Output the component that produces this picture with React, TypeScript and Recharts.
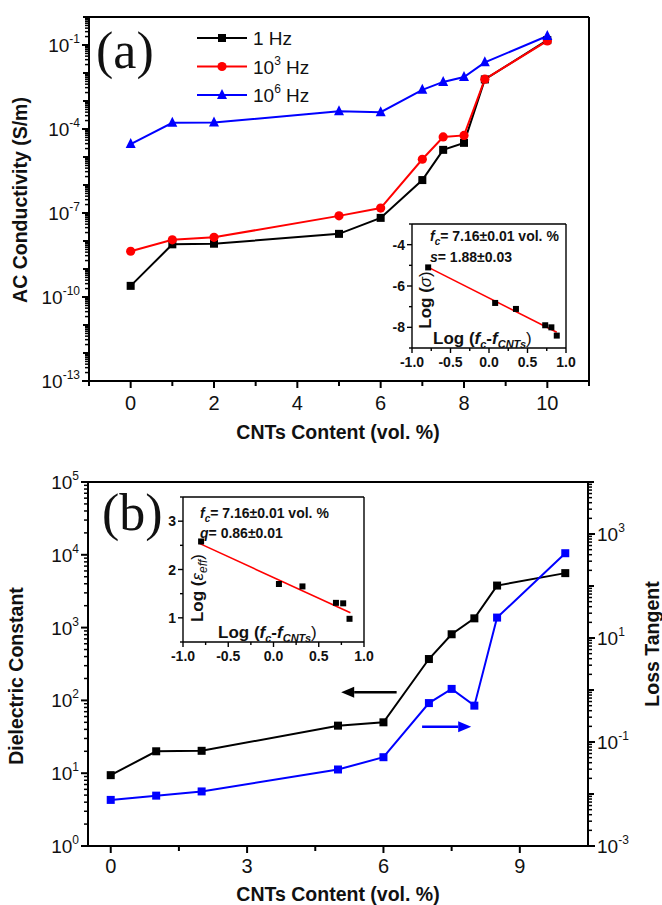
import React from "react";
import {
  ComposedChart,
  Label,
  Legend,
  Line,
  LineChart,
  ReferenceLine,
  Scatter,
  XAxis,
  YAxis,
} from "recharts";

// teneur en CNTs (vol. %)
const teneurs = [0, 1, 2, 5, 6, 7, 7.5, 8, 8.5, 10];

// (a) conductivité AC (S/m)
const sigma1Hz = [2.5e-10, 7.6e-9, 8e-9, 1.8e-8, 6.7e-8, 1.5e-6, 1.8e-5, 3.2e-5, 5.9e-3, 0.15];
const sigma1kHz = [4.3e-9, 1.1e-8, 1.35e-8, 7.9e-8, 1.5e-7, 8.3e-6, 5.2e-5, 5.9e-5, 6e-3, 0.14];
const sigma1MHz = [2.9e-5, 1.66e-4, 1.7e-4, 4.3e-4, 4.0e-4, 2.5e-3, 4.8e-3, 7.2e-3, 0.024, 0.21];

// (a) encart : log(fc - f) vs log(sigma)
const encartALogF = [-0.79, 0.08, 0.35, 0.73, 0.81, 0.88];
const encartALogSigma = [-5.1, -6.82, -7.11, -7.9, -8.0, -8.4];
const ajustAPente = -1.88;
const ajustAOrigine = -6.58;
const ajustABornes = [-0.8, 0.88];

// (b) constante diélectrique et tangente de pertes
const constanteDiel = [9.4, 20, 20.3, 45, 50, 370, 810, 1340, 3780, 5600];
const tangentePertes = [7.7e-3, 9.3e-3, 0.0112, 0.0296, 0.051, 0.56, 1.05, 0.5, 24.7, 427];

// (b) encart : log(fc - f) vs log(eps_eff)
const encartBLogF = [-0.8, 0.06, 0.32, 0.69, 0.77, 0.84];
const encartBLogEps = [2.58, 1.7, 1.65, 1.31, 1.3, 0.98];
const ajustBPente = -0.86;
const ajustBOrigine = 1.835;
const ajustBBornes = [-0.82, 0.85];

// flèches (b), en coordonnées de données (axe de gauche)
const flecheNoireX = [6.29, 5.07];
const flecheNoireY = 129;
const flecheBleueX = [6.85, 7.93];
const flecheBleueY = 43.4;

// graduations
const ticksXA = [-1, 0, 1, 2, 3, 4, 5, 6, 7, 8, 9, 10, 11];
const etiquettesXA = [0, 2, 4, 6, 8, 10];
const ticksXB = [0, 1.5, 3, 4.5, 6, 7.5, 9];
const etiquettesXB = [0, 3, 6, 9];
const expEtiquettesA = [-13, -10, -7, -4, -1];
const expEtiquettesBGauche = [0, 1, 2, 3, 4, 5];
const expEtiquettesBDroite = [-3, -1, 1, 3];
const ticksEncartX = [-1, -0.75, -0.5, -0.25, 0, 0.25, 0.5, 0.75, 1];
const etiquettesEncartX = [-1, -0.5, 0, 0.5, 1];
const ticksEncartAY = [-9, -8, -7, -6, -5, -4, -3];
const etiquettesEncartAY = [-8, -6, -4];
const ticksEncartBY = [0.5, 1, 1.5, 2, 2.5, 3, 3.5];
const etiquettesEncartBY = [1, 2, 3];

const POLICE = "Arial, 'Liberation Sans', Helvetica, sans-serif";
const SERIF = "'Times New Roman', 'Liberation Serif', serif";
const NOIR = "#000000";
const ROUGE = "#ff0000";
const BLEU = "#0000ff";

const donneesA = teneurs.map((x, i) => ({
  x,
  s1: sigma1Hz[i],
  s2: sigma1kHz[i],
  s3: sigma1MHz[i],
}));
const donneesB = teneurs.map((x, i) => ({
  x,
  eps: constanteDiel[i],
  tan: tangentePertes[i],
}));
const pointsA = encartALogF.map((x, i) => ({ x, y: encartALogSigma[i] }));
const ajustA = ajustABornes.map((x) => ({ x, y: ajustAOrigine + ajustAPente * x }));
const pointsB = encartBLogF.map((x, i) => ({ x, y: encartBLogEps[i] }));
const ajustB = ajustBBornes.map((x) => ({ x, y: ajustBOrigine + ajustBPente * x }));

function ticksLog(expMin: number, expMax: number) {
  const t: number[] = [];
  for (let e = expMin; e <= expMax; e++) {
    t.push(Math.pow(10, e));
    if (e < expMax) for (let k = 2; k <= 9; k++) t.push(k * Math.pow(10, e));
  }
  return t;
}

function tickLogY(axeX: number, sens: number, etiquetees: number[]) {
  return (props: any) => {
    const { y, payload } = props;
    const v = payload.value as number;
    const e = Math.round(Math.log10(v));
    const decade = Math.abs(v / Math.pow(10, e) - 1) < 1e-6;
    const lbl = decade && etiquetees.includes(e);
    const long = decade ? (lbl ? 7 : 6) : 4;
    return (
      <g>
        <line x1={axeX} x2={axeX + sens * long} y1={y} y2={y} stroke={NOIR} strokeWidth={decade ? 2 : 1.5} />
        {lbl && (
          <text
            x={axeX + sens * 9}
            y={y + 7}
            textAnchor={sens < 0 ? "end" : "start"}
            fontFamily={POLICE}
            fontSize={19}
            fill="#111"
          >
            <tspan>10</tspan>
            <tspan fontSize={12} dy={-9}>
              {e}
            </tspan>
          </text>
        )}
      </g>
    );
  };
}

function tickX(axeY: number, etiquetees: number[], decalage: number) {
  return (props: any) => {
    const { x, payload } = props;
    const v = payload.value as number;
    const lbl = etiquetees.includes(v);
    return (
      <g>
        <line x1={x} x2={x} y1={axeY} y2={axeY + (lbl ? 7 : 5)} stroke={NOIR} strokeWidth={2} />
        {lbl && (
          <text x={x} y={axeY + decalage} textAnchor="middle" fontFamily={POLICE} fontSize={20} fill="#111">
            {v}
          </text>
        )}
      </g>
    );
  };
}

function tickEncartX(axeY: number) {
  return (props: any) => {
    const { x, payload } = props;
    const v = payload.value as number;
    const lbl = etiquettesEncartX.includes(v);
    return (
      <g>
        <line x1={x} x2={x} y1={axeY} y2={axeY + (lbl ? 5 : 3)} stroke={NOIR} strokeWidth={1.4} />
        {lbl && (
          <text x={x} y={axeY + 19} textAnchor="middle" fontFamily={POLICE} fontWeight="bold" fontSize={14} fill="#111">
            {v.toFixed(1)}
          </text>
        )}
      </g>
    );
  };
}

function tickEncartY(axeX: number, etiquetees: number[]) {
  return (props: any) => {
    const { y, payload } = props;
    const v = payload.value as number;
    const lbl = etiquetees.includes(v);
    return (
      <g>
        <line x1={axeX} x2={axeX - (lbl ? 5 : 3)} y1={y} y2={y} stroke={NOIR} strokeWidth={1.4} />
        {lbl && (
          <text x={axeX - 7} y={y + 5} textAnchor="end" fontFamily={POLICE} fontWeight="bold" fontSize={14} fill="#111">
            {v}
          </text>
        )}
      </g>
    );
  };
}

function carre(taille: number, couleur: string) {
  return (props: any) => {
    const { cx, cy, index } = props;
    if (cx == null || cy == null) return <g key={index} />;
    return <rect key={index} x={cx - taille / 2} y={cy - taille / 2} width={taille} height={taille} fill={couleur} />;
  };
}

function rond(r: number, couleur: string) {
  return (props: any) => {
    const { cx, cy, index } = props;
    if (cx == null || cy == null) return <g key={index} />;
    return <circle key={index} cx={cx} cy={cy} r={r} fill={couleur} />;
  };
}

function triangle(t: number, couleur: string) {
  return (props: any) => {
    const { cx, cy, index } = props;
    if (cx == null || cy == null) return <g key={index} />;
    const pts = `${cx},${cy - t * 0.6} ${cx - t / 2},${cy + t * 0.4} ${cx + t / 2},${cy + t * 0.4}`;
    return <polygon key={index} points={pts} fill={couleur} />;
  };
}

function fleche(couleur: string) {
  return (props: any) => {
    const { x1, y1, x2, y2 } = props;
    const ang = Math.atan2(y2 - y1, x2 - x1);
    const L = 13;
    const W = 5.5;
    const bx = x2 - L * Math.cos(ang);
    const by = y2 - L * Math.sin(ang);
    const pts = `${x2},${y2} ${bx - W * Math.sin(ang)},${by + W * Math.cos(ang)} ${bx + W * Math.sin(ang)},${by - W * Math.cos(ang)}`;
    return (
      <g>
        <line x1={x1} y1={y1} x2={bx} y2={by} stroke={couleur} strokeWidth={2.5} />
        <polygon points={pts} fill={couleur} />
      </g>
    );
  };
}

const seriesA = [
  { cle: "s1", couleur: NOIR, marque: carre(8, NOIR), exp: "" },
  { cle: "s2", couleur: ROUGE, marque: rond(4.6, ROUGE), exp: "3" },
  { cle: "s3", couleur: BLEU, marque: triangle(10, BLEU), exp: "6" },
];

function LegendeA() {
  return (
    <svg width={140} height={92}>
      {seriesA.map((s, i) => {
        const y = 16 + i * 28.5;
        return (
          <g key={s.cle}>
            <line x1={7} x2={57} y1={y} y2={y} stroke={s.couleur} strokeWidth={2} />
            {s.marque({ cx: 32, cy: y, index: i })}
            <text x={63} y={y + 7} fontFamily={POLICE} fontSize={19} fill="#111">
              {s.exp === "" ? (
                "1 Hz"
              ) : (
                <>
                  <tspan>10</tspan>
                  <tspan fontSize={12} dy={-9}>
                    {s.exp}
                  </tspan>
                  <tspan dy={9}> Hz</tspan>
                </>
              )}
            </text>
          </g>
        );
      })}
    </svg>
  );
}

const cadre = { stroke: NOIR, strokeWidth: 2 };
const cadreEncart = { stroke: NOIR, strokeWidth: 1.4 };

function TitreX({ y }: { y: number }) {
  return (
    <text x={338} y={y} textAnchor="middle" fontFamily={POLICE} fontWeight="bold" fontSize={19.5} fill="#111">
      CNTs Content (vol. %)
    </text>
  );
}

function TitreY({ x, y, texte }: { x: number; y: number; texte: string }) {
  return (
    <text
      x={x}
      y={y}
      transform={`rotate(-90, ${x}, ${y})`}
      textAnchor="middle"
      fontFamily={POLICE}
      fontWeight="bold"
      fontSize={19.5}
      fill="#111"
    >
      {texte}
    </text>
  );
}

function LogFc({ x, y }: { x: number; y: number }) {
  return (
    <text x={x} y={y} fontFamily={POLICE} fontSize={17} fill="#111">
      <tspan fontWeight="bold">Log (</tspan>
      <tspan fontWeight="bold" fontStyle="italic">f</tspan>
      <tspan fontWeight="bold" fontStyle="italic" fontSize={11} dy={4}>c</tspan>
      <tspan fontWeight="bold" dy={-4}>-</tspan>
      <tspan fontWeight="bold" fontStyle="italic">f</tspan>
      <tspan fontWeight="bold" fontStyle="italic" fontSize={11} dy={4}>CNTs</tspan>
      <tspan dy={-4}>)</tspan>
    </text>
  );
}

function Fc({ x, y }: { x: number; y: number }) {
  return (
    <text x={x} y={y} fontFamily={POLICE} fontWeight="bold" fontSize={14} fill="#111">
      <tspan fontStyle="italic">f</tspan>
      <tspan fontStyle="italic" fontSize={10} dy={4}>c</tspan>
      <tspan dy={-4}>= 7.16±0.01 vol. %</tspan>
    </text>
  );
}

export default function App() {
  return (
    <div style={{ position: "absolute", left: 0, top: 0, width: 662, height: 905, background: "#fff" }}>
      {/* (a) */}
      <div style={{ position: "absolute", left: 0, top: 0 }}>
        <LineChart width={662} height={455} data={donneesA} margin={{ top: 17, right: 73, bottom: 14, left: 0 }}>
          <XAxis
            type="number"
            dataKey="x"
            domain={[-1, 11]}
            ticks={ticksXA}
            interval={0}
            height={60}
            allowDataOverflow
            axisLine={cadre}
            tickLine={false}
            tick={tickX(381, etiquettesXA, 29)}
          >
            <Label content={() => <TitreX y={439} />} />
          </XAxis>
          <XAxis xAxisId="haut" orientation="top" type="number" domain={[-1, 11]} mirror tick={false} tickLine={false} axisLine={cadre} />
          <YAxis
            scale="log"
            type="number"
            domain={[1e-13, 1]}
            ticks={ticksLog(-13, 0)}
            interval={0}
            width={89}
            allowDataOverflow
            axisLine={cadre}
            tickLine={false}
            tick={tickLogY(89, -1, expEtiquettesA)}
          >
            <Label
              content={() => (
                <g>
                  <TitreY x={27} y={200} texte="AC Conductivity (S/m)" />
                  <text x={96} y={68} fontFamily={SERIF} fontSize={52} fill="#111">
                    (a)
                  </text>
                </g>
              )}
            />
          </YAxis>
          <YAxis yAxisId="cadre" orientation="right" mirror tick={false} tickLine={false} axisLine={cadre} />
          <Legend
            layout="vertical"
            align="center"
            verticalAlign="middle"
            wrapperStyle={{ left: 190, top: 22, width: 140 }}
            content={() => <LegendeA />}
          />
          {seriesA.map((s) => (
            <Line
              key={s.cle}
              type="linear"
              dataKey={s.cle}
              stroke={s.couleur}
              strokeWidth={2}
              dot={s.marque}
              activeDot={false}
              isAnimationActive={false}
            />
          ))}
        </LineChart>
      </div>

      {/* (a) encart */}
      <div style={{ position: "absolute", left: 360, top: 214 }}>
        <ComposedChart width={220} height={160} margin={{ top: 10, right: 14, bottom: 4, left: 0 }}>
          <XAxis
            type="number"
            dataKey="x"
            domain={[-1, 1]}
            ticks={ticksEncartX}
            interval={0}
            height={22}
            allowDataOverflow
            axisLine={cadreEncart}
            tickLine={false}
            tick={tickEncartX(134)}
          >
            <Label
              content={() => (
                <g>
                  <Fc x={70} y={27} />
                  <text x={70} y={48} fontFamily={POLICE} fontWeight="bold" fontSize={14} fill="#111">
                    <tspan fontStyle="italic">s</tspan>
                    <tspan>= 1.88±0.03</tspan>
                  </text>
                  <LogFc x={73} y={130} />
                </g>
              )}
            />
          </XAxis>
          <XAxis xAxisId="haut" orientation="top" type="number" domain={[-1, 1]} mirror tick={false} tickLine={false} axisLine={cadreEncart} />
          <YAxis
            type="number"
            dataKey="y"
            domain={[-9, -3]}
            ticks={ticksEncartAY}
            interval={0}
            width={52}
            allowDataOverflow
            axisLine={cadreEncart}
            tickLine={false}
            tick={tickEncartY(52, etiquettesEncartAY)}
          >
            <Label
              content={() => (
                <text
                  x={71}
                  y={86}
                  transform="rotate(-90, 71, 86)"
                  textAnchor="middle"
                  fontFamily={POLICE}
                  fontWeight="bold"
                  fontSize={17}
                  fill="#111"
                >
                  <tspan>Log (</tspan>
                  <tspan fontStyle="italic" fontWeight="normal">σ</tspan>
                  <tspan fontWeight="normal">)</tspan>
                </text>
              )}
            />
          </YAxis>
          <YAxis yAxisId="droite" orientation="right" mirror tick={false} tickLine={false} axisLine={cadreEncart} />
          <Scatter data={ajustA} line={{ stroke: ROUGE, strokeWidth: 1.6 }} shape={() => <g />} isAnimationActive={false} />
          <Scatter data={pointsA} fill={NOIR} shape={carre(6, NOIR)} isAnimationActive={false} />
        </ComposedChart>
      </div>

      {/* (b) */}
      <div style={{ position: "absolute", left: 0, top: 455 }}>
        <LineChart width={662} height={450} data={donneesB} margin={{ top: 27, right: 0, bottom: 4, left: 0 }}>
          <XAxis
            type="number"
            dataKey="x"
            domain={[-0.5, 10.5]}
            ticks={ticksXB}
            interval={0}
            height={55}
            allowDataOverflow
            axisLine={cadre}
            tickLine={false}
            tick={tickX(391, etiquettesXB, 27)}
          >
            <Label content={() => <TitreX y={446} />} />
          </XAxis>
          <XAxis xAxisId="haut" orientation="top" type="number" domain={[-0.5, 10.5]} mirror tick={false} tickLine={false} axisLine={cadre} />
          <YAxis
            yAxisId="gauche"
            scale="log"
            type="number"
            domain={[1, 1e5]}
            ticks={ticksLog(0, 5)}
            interval={0}
            width={88}
            allowDataOverflow
            axisLine={cadre}
            tickLine={false}
            tick={tickLogY(88, -1, expEtiquettesBGauche)}
          >
            <Label
              content={() => (
                <g>
                  <TitreY x={23} y={221} texte="Dielectric Constant" />
                  <text x={102} y={75} fontFamily={SERIF} fontSize={52} fill="#111">
                    (b)
                  </text>
                </g>
              )}
            />
          </YAxis>
          <YAxis
            yAxisId="droite"
            orientation="right"
            scale="log"
            type="number"
            domain={[1e-3, 1e4]}
            ticks={ticksLog(-3, 4)}
            interval={0}
            width={74}
            allowDataOverflow
            axisLine={cadre}
            tickLine={false}
            tick={tickLogY(588, 1, expEtiquettesBDroite)}
          >
            <Label content={() => <TitreY x={659} y={189} texte="Loss Tangent" />} />
          </YAxis>
          <ReferenceLine
            yAxisId="gauche"
            segment={[
              { x: flecheNoireX[0], y: flecheNoireY },
              { x: flecheNoireX[1], y: flecheNoireY },
            ]}
            shape={fleche(NOIR)}
          />
          <ReferenceLine
            yAxisId="gauche"
            segment={[
              { x: flecheBleueX[0], y: flecheBleueY },
              { x: flecheBleueX[1], y: flecheBleueY },
            ]}
            shape={fleche(BLEU)}
          />
          <Line
            yAxisId="gauche"
            type="linear"
            dataKey="eps"
            stroke={NOIR}
            strokeWidth={2}
            dot={carre(8, NOIR)}
            activeDot={false}
            isAnimationActive={false}
          />
          <Line
            yAxisId="droite"
            type="linear"
            dataKey="tan"
            stroke={BLEU}
            strokeWidth={2}
            dot={carre(8, BLEU)}
            activeDot={false}
            isAnimationActive={false}
          />
        </LineChart>
      </div>

      {/* (b) encart */}
      <div style={{ position: "absolute", left: 140, top: 487 }}>
        <ComposedChart width={240} height={185} margin={{ top: 10, right: 16, bottom: 4, left: 0 }}>
          <XAxis
            type="number"
            dataKey="x"
            domain={[-1, 1]}
            ticks={ticksEncartX}
            interval={0}
            height={26}
            allowDataOverflow
            axisLine={cadreEncart}
            tickLine={false}
            tick={tickEncartX(155)}
          >
            <Label
              content={() => (
                <g>
                  <Fc x={60} y={31} />
                  <text x={60} y={51} fontFamily={POLICE} fontWeight="bold" fontSize={14} fill="#111">
                    <tspan fontStyle="italic">q</tspan>
                    <tspan>= 0.86±0.01</tspan>
                  </text>
                  <LogFc x={78} y={151} />
                </g>
              )}
            />
          </XAxis>
          <XAxis xAxisId="haut" orientation="top" type="number" domain={[-1, 1]} mirror tick={false} tickLine={false} axisLine={cadreEncart} />
          <YAxis
            type="number"
            dataKey="y"
            domain={[0.5, 3.5]}
            ticks={ticksEncartBY}
            interval={0}
            width={43}
            allowDataOverflow
            axisLine={cadreEncart}
            tickLine={false}
            tick={tickEncartY(43, etiquettesEncartBY)}
          >
            <Label
              content={() => (
                <text
                  x={63}
                  y={101}
                  transform="rotate(-90, 63, 101)"
                  textAnchor="middle"
                  fontFamily={POLICE}
                  fontWeight="bold"
                  fontSize={17}
                  fill="#111"
                >
                  <tspan>Log (</tspan>
                  <tspan fontStyle="italic" fontWeight="normal">ε</tspan>
                  <tspan fontStyle="italic" fontWeight="normal" fontSize={12} dy={4}>eff</tspan>
                  <tspan fontWeight="normal" dy={-4}>)</tspan>
                </text>
              )}
            />
          </YAxis>
          <YAxis yAxisId="droite" orientation="right" mirror tick={false} tickLine={false} axisLine={cadreEncart} />
          <Scatter data={ajustB} line={{ stroke: ROUGE, strokeWidth: 1.6 }} shape={() => <g />} isAnimationActive={false} />
          <Scatter data={pointsB} fill={NOIR} shape={carre(6, NOIR)} isAnimationActive={false} />
        </ComposedChart>
      </div>
    </div>
  );
}
